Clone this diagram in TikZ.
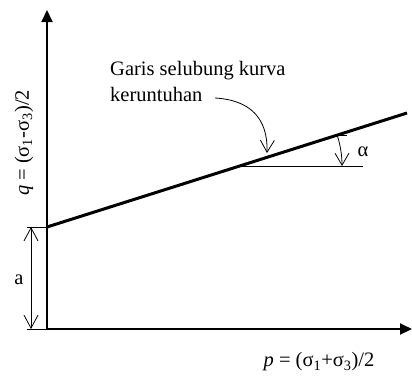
\documentclass[tikz,border=0pt]{standalone}
\usepackage{fontspec}
\setmainfont{Liberation Serif}
\usetikzlibrary{arrows.meta,calc}
\begin{document}
\begin{tikzpicture}[x=1pt,y=-1pt,
  axisln/.style={line width=2pt,line cap=rect,-{Triangle[length=12pt,width=11pt]}},
  envelope/.style={line width=3pt},
  thinln/.style={line width=0.8pt},
  barbend/.style={thinln,-{Straight Barb[length=12pt,width=14pt,line width=0.8pt]}},
  barbboth/.style={thinln,{Straight Barb[length=13pt,width=14pt,line width=0.8pt]}-{Straight Barb[length=13pt,width=14pt,line width=0.8pt]}},
  lbl/.style={font=\fontsize{20.5}{23}\selectfont,inner sep=0pt}]
\useasboundingbox (0,0) rectangle (412,376);
% axes
\coordinate (O) at (47,329);
\coordinate (Ytop) at (47,10);
\coordinate (Xend) at (412,329);
\draw[axisln] (O) -- (Ytop);
\draw[axisln] (O) -- (Xend);
% envelope line
\coordinate (A) at (47,227);
\coordinate (B) at (407,113);
\draw[envelope] (A) -- (B);
% horizontal reference
\coordinate (I) at (240,166);
\coordinate (H) at (363,166);
\draw[thinln] (I) -- (H);
% alpha arc
\coordinate (Atop) at ($(I)+(-17.6:102)$);
\draw[barbend] (Atop) arc[start angle=-17.6,end angle=0,radius=102];
\draw[thinln] (Atop) -- ++(10,0);
\node[lbl] (alpha) at (363,152) {α};
% labels
\node[lbl,anchor=west] (t1) at (110,71) {Garis selubung kurva};
\node[lbl,anchor=west] (t2) at (110,94) {keruntuhan};
\coordinate (C1) at (215,98);
\coordinate (T) at (267,153);
\draw[barbend] (C1) .. controls (250,100) and (268,118) .. (T);
% dimension a
\coordinate (D1) at (27,227);
\coordinate (D2) at (27,329);
\draw[thinln] (D1) -- (A);
\draw[thinln] (D2) -- (O);
\coordinate (E1) at (31,227);
\coordinate (E2) at (31,329);
\draw[barbboth] (E1) -- (E2);
\node[lbl] (alab) at (19,280) {a};
% axis labels
\node[lbl,rotate=90] (qlab) at (24,143) {\textit{q} = (σ\textsubscript{1}-σ\textsubscript{3})/2};
\node[lbl] (plab) at (319,362) {\textit{p} = (σ\textsubscript{1}+σ\textsubscript{3})/2};
\end{tikzpicture}
\end{document}
